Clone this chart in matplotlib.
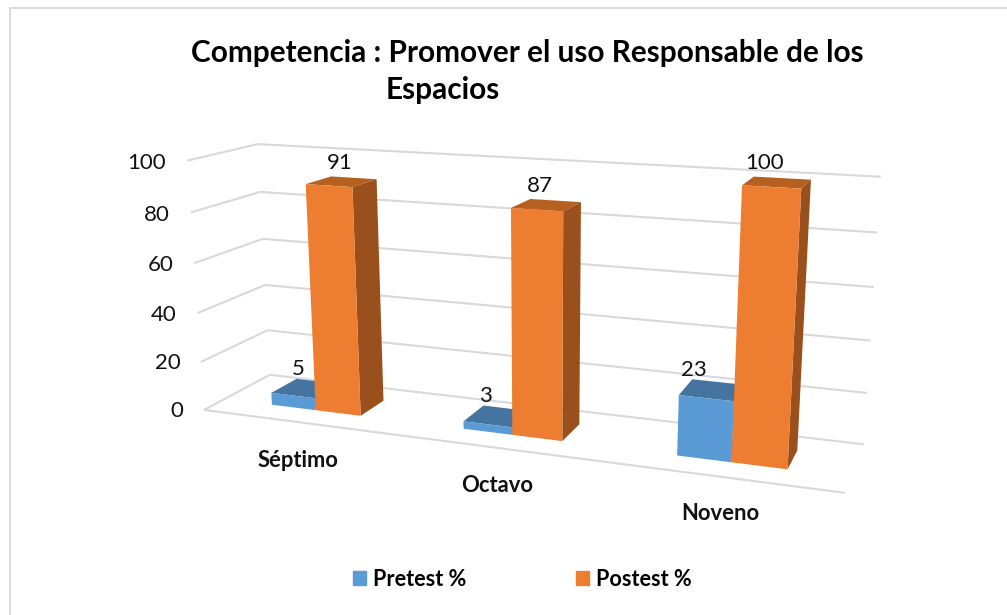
import numpy as np
import matplotlib
matplotlib.use('Agg')
import matplotlib.pyplot as plt
from matplotlib.patches import Patch
from matplotlib.lines import Line2D
from mpl_toolkits.mplot3d.art3d import Line3DCollection

plt.rcParams['font.family'] = ['Lato', 'DejaVu Sans']

#data
categories = ['Séptimo', 'Octavo', 'Noveno']
pretest = [5, 3, 23]
postest = [91, 87, 100]
yticks = [0, 20, 40, 60, 80, 100]
series_names = ['Pretest %', 'Postest %']

#chart box in data units: x 0..3, depth 0..1, value 0..100
W, H = 1007, 615
bar_w = 0.238
bar_left = 0.262
depth_front, depth_size = 0.3, 0.4
label_drop = [-16, -14.8, -13.6]       #category labels below the floor

#where the box corners sit on the picture, used to fit the camera
front_left = [(204, 410), (201, 362), (198, 313), (194, 263), (191, 212), (187, 161)]
back_left = [(270, 375), (267, 330), (265, 285), (263, 239), (260, 192), (258, 144)]
back_right = [(864, 444), (867, 393), (870, 341), (874, 287), (877, 232), (881, 177)]
floor_right = (845, 493)


def fit_camera():
    src, dst = [], []
    for i, z in enumerate(yticks):
        src += [(0, 0, z), (0, 1, z), (3, 1, z)]
        dst += [front_left[i], back_left[i], back_right[i]]
    src.append((3, 0, 0))
    dst.append(floor_right)
    rows = []
    for (x, y, z), (u, v) in zip(src, dst):
        rows.append([x, y, z, 1, 0, 0, 0, 0, -u*x, -u*y, -u*z, -u])
        rows.append([0, 0, 0, 0, x, y, z, 1, -v*x, -v*y, -v*z, -v])
    p = np.linalg.svd(np.array(rows, dtype=float))[2][-1].reshape(3, 4)
    return p/p[2, 3]


cam = fit_camera()

fig = plt.figure(figsize=(W/100, H/100), dpi=100)
ax = fig.add_axes([0, (H-W)/2/H, 1, W/H], projection='3d', computed_zorder=False)
ax.set_axis_off()
ax.set_xticks([])
ax.set_yticks([])
ax.set_zticks([])
for axis in [ax.xaxis, ax.yaxis, ax.zaxis]:
    axis.set_visible(False)
    axis.label.set_visible(False)
    axis.get_offset_text().set_visible(False)


def get_proj():
    # picture pixels -> axes 2d coords, so the 3d axes draws with the fitted camera
    inv = ax.transData.inverted().get_matrix()
    flip = np.array([[1, 0, 0], [0, -1, H], [0, 0, 1]], dtype=float)
    p = inv @ flip @ cam
    return np.array([p[0], p[1], [0, 1, 0, 0], p[2]])


ax.get_proj = get_proj

#walls
grid = '#D9D9D9'
segs = [[(0, 0, 0), (3, 0, 0)]]
for z in yticks:
    segs.append([(0, 0, z), (0, 1, z)])
    segs.append([(0, 1, z), (3, 1, z)])
ax.add_collection3d(Line3DCollection(segs, colors=grid, linewidths=1.5, zorder=1))

#bars, hidden faces left transparent (order: bottom top front back left right)
none = (0, 0, 0, 0)
x = np.arange(3)
ax.bar3d(x+bar_left, [depth_front]*3, [0]*3, bar_w, depth_size, pretest, shade=False,
         color=[none, '#44749F', '#5B9BD5', none, none, '#3D6A96']*3, zorder=2)
ax.bar3d(x+bar_left+bar_w, [depth_front]*3, [0]*3, bar_w, depth_size, postest, shade=False,
         color=[none, '#B5601F', '#ED7D31', none, none, '#99501C']*3, zorder=3)

#labels
top = depth_front+depth_size
for i in range(3):
    ax.text(i+bar_left+bar_w/2-0.11, top, pretest[i], str(pretest[i]), fontsize=16,
            ha='center', va='bottom', color='#111111', zorder=4)
    ax.text(i+bar_left+1.5*bar_w-0.075, top, postest[i]+1.5, str(postest[i]), fontsize=16,
            ha='center', va='bottom', color='#111111', zorder=4)
    ax.text(i+0.495, 0, label_drop[i], categories[i], fontsize=15.8, fontweight='bold', ha='center',
            va='center', color='#111111', zorder=4)
for z in yticks:
    ax.text(-0.115, 0, z-1.5, str(z), fontsize=16, ha='right', va='center', color='#111111', zorder=4)

#title and chart frame (only left and top edges show)
fig.text(191/W, 1-53/H, 'Competencia : Promover el uso Responsable de los', fontsize=21.4,
         fontweight='bold', va='center', ha='left', color='black')
fig.text(386/W, 1-90/H, 'Espacios', fontsize=21.4, fontweight='bold', va='center', ha='left', color='black')
fig.add_artist(Line2D([10/W, 10/W, 1], [0, 1-8/H, 1-8/H], color='#DDDDDD', lw=1.5))

handles = [Patch(color='#5B9BD5'), Patch(color='#ED7D31')]
fig.legend(handles, series_names, ncol=2, loc='center', bbox_to_anchor=(522/W, 1-579/H), frameon=False,
           handlelength=0.62, handleheight=0.62, handletextpad=0.3, columnspacing=5.07,
           prop={'size': 15.6, 'weight': 'bold'})

plt.savefig('out.png', dpi=100)
